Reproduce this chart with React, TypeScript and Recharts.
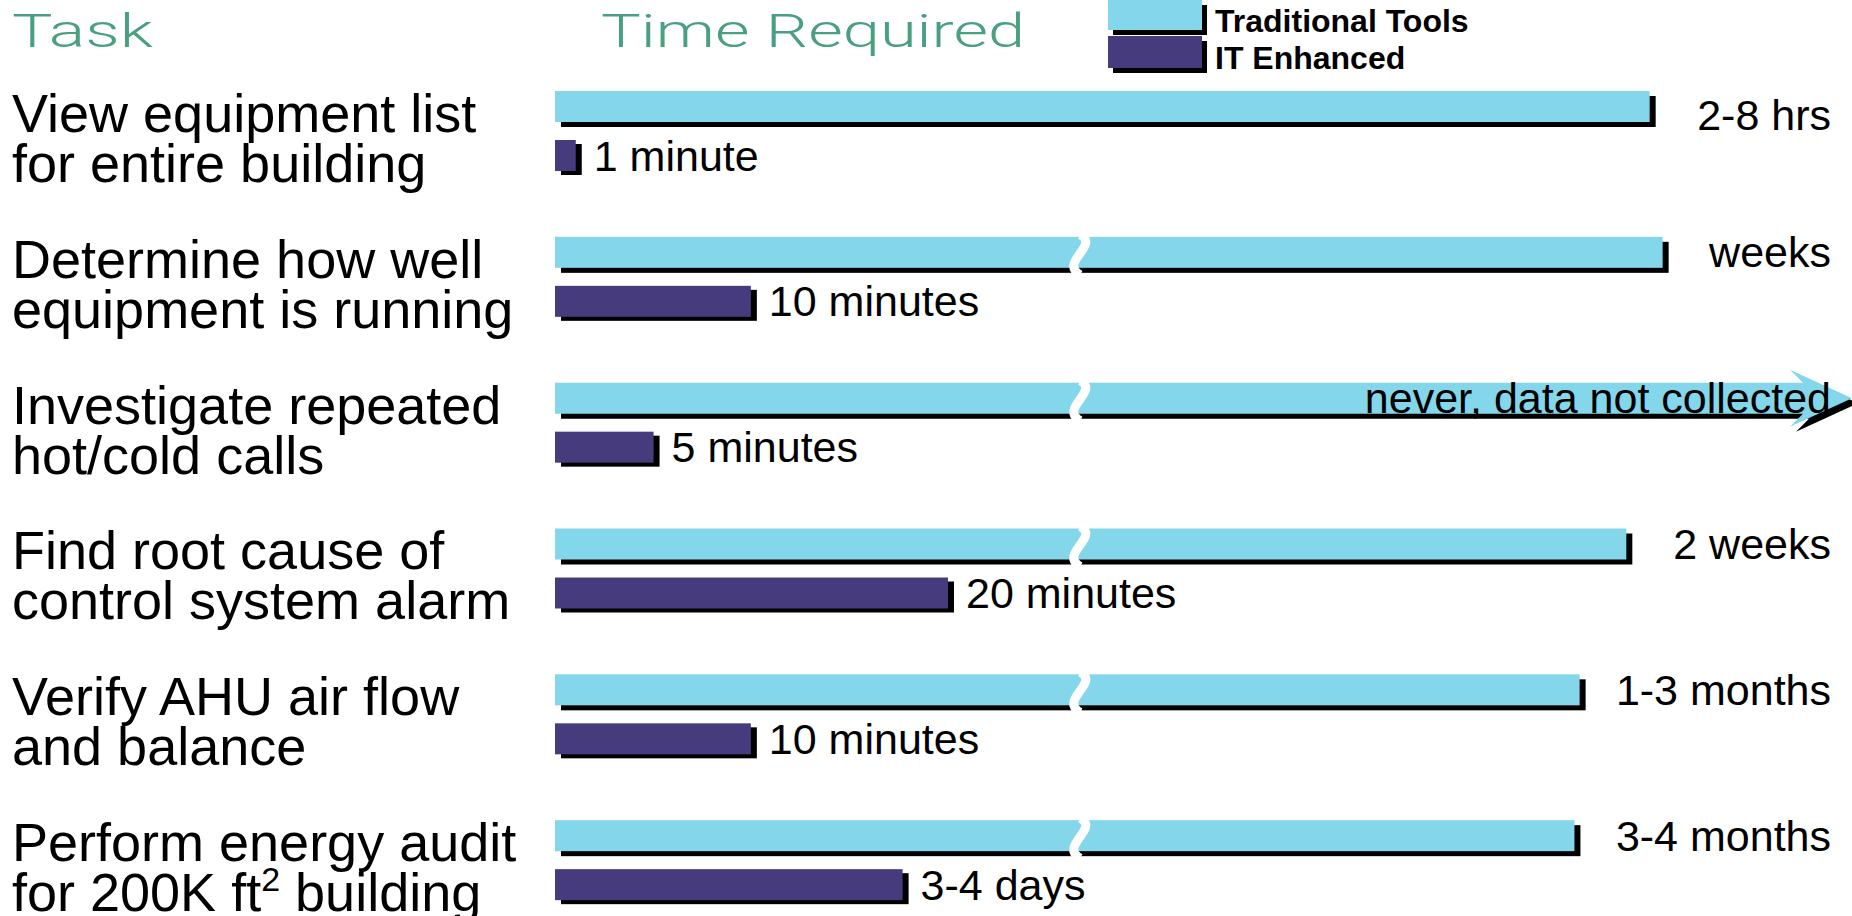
import { BarChart, Bar, XAxis, YAxis, Legend, LabelList } from "recharts";

const taskLines = [
  ["View equipment list", "for entire building"],
  ["Determine how well", "equipment is running"],
  ["Investigate repeated", "hot/cold calls"],
  ["Find root cause of", "control system alarm"],
  ["Verify AHU air flow", "and balance"],
  ["Perform energy audit", "for 200K ft² building"],
];

const seriesNames = ["Traditional Tools", "IT Enhanced"];

// bar lengths as drawn on the (broken) axis, not real durations
const traditional = [84.4, 85.4, 100, 82.6, 79.0, 78.6];
const itEnhanced = [1.6, 15.1, 7.6, 30.3, 15.1, 26.8];
const traditionalLabels = ["2-8 hrs", "weeks", "never, data not collected", "2 weeks", "1-3 months", "3-4 months"];
const itLabels = ["1 minute", "10 minutes", "5 minutes", "20 minutes", "10 minutes", "3-4 days"];
const axisBreak = [null, 40.5, 40.5, 40.5, 40.5, 40.5];
const openEnded = [false, false, true, false, false, false];

const CYAN = "#84d6ea";
const PURPLE = "#463b7d";
const GREEN = "#48a07f";
const FONT = "'Liberation Sans', Arial, Helvetica, sans-serif";
const LABEL_RIGHT = 1831;

const data = taskLines.map((lines, i) => ({
  task: lines.join(" "),
  traditional: traditional[i],
  it: itEnhanced[i],
  tradLabel: traditionalLabels[i],
  itLabel: itLabels[i],
  breakAt: axisBreak[i],
  open: openEnded[i],
}));

function TradBar(props: any) {
  const { x, y, width, height, fill, payload } = props;
  const top = y;
  const bot = y + height;
  const tip = x + width;
  let body;
  if (payload.open) {
    const mid = y + height / 2;
    const pts = (dx: number, dy: number) =>
      [
        [x, top],
        [tip - 49, top],
        [tip - 62, top - 13],
        [tip, mid],
        [tip - 62, bot + 13],
        [tip - 49, bot],
        [x, bot],
      ]
        .map(([a, b]) => `${a + dx},${b + dy}`)
        .join(" ");
    body = (
      <>
        <polygon points={pts(6, 5)} fill="#000" />
        <polygon points={pts(0, 0)} fill={fill} />
      </>
    );
  } else {
    body = (
      <>
        <rect x={x + 6} y={y + 5} width={width} height={height} fill="#000" />
        <rect x={x} y={y} width={width} height={height} fill={fill} />
      </>
    );
  }
  let squiggle = null;
  if (payload.breakAt != null) {
    const bx = x + (width * payload.breakAt) / payload.traditional;
    squiggle = (
      <path
        d={`M${bx},${top - 2} C${bx + 20},${top + 8} ${bx - 22},${top + 26} ${bx},${bot + 7}`}
        stroke="#fff"
        strokeWidth={9}
        fill="none"
      />
    );
  }
  return (
    <g>
      {body}
      {squiggle}
    </g>
  );
}

function ItBar(props: any) {
  const { x, y, width, height, fill } = props;
  return (
    <g>
      <rect x={x + 6} y={y + 4} width={width} height={height} fill="#000" />
      <rect x={x} y={y} width={width} height={height} fill={fill} />
    </g>
  );
}

function TradLabel(props: any) {
  const vb = props.viewBox ?? props;
  // first row's label sits a little lower in the original
  const dy = props.index === 0 ? 8 : 0;
  return (
    <text x={LABEL_RIGHT} y={vb.y + vb.height / 2 + dy} textAnchor="end" dominantBaseline="central" fontSize={43} fontFamily={FONT} fill="#000">
      {props.value}
    </text>
  );
}

function ItLabel(props: any) {
  const vb = props.viewBox ?? props;
  return (
    <text x={vb.x + vb.width + 18} y={vb.y + vb.height / 2} textAnchor="start" dominantBaseline="central" fontSize={43} fontFamily={FONT} fill="#000">
      {props.value}
    </text>
  );
}

function TaskTick(props: any) {
  const { y, payload } = props;
  const lines = taskLines[payload.index] ?? [payload.value];
  return (
    <g>
      {lines.map((line, i) => {
        const parts = line.split("²");
        return (
          <text key={i} x={12} y={y + 1 + i * 50} fontSize={54} fontFamily={FONT} fill="#000">
            {parts.length > 1 ? (
              <>
                {parts[0]}
                <tspan fontSize={34} dy={-20}>
                  2
                </tspan>
                <tspan dy={20}>{parts[1]}</tspan>
              </>
            ) : (
              line
            )}
          </text>
        );
      })}
    </g>
  );
}

function LegendBox(props: any) {
  const items = [...(props.payload || [])].sort(
    (a: any, b: any) => seriesNames.indexOf(a.value) - seriesNames.indexOf(b.value)
  );
  return (
    <div>
      {items.map((entry: any, i: number) => (
        <div key={entry.value} style={{ display: "flex", alignItems: "flex-start", height: 37 }}>
          <div
            style={{
              width: 94,
              height: i === 0 ? 30 : 32,
              marginTop: i === 0 ? 0 : -1,
              background: entry.color,
              boxShadow: "5px 5px 0 #000",
            }}
          />
          <span
            style={{
              marginLeft: 13,
              paddingTop: 3,
              fontFamily: FONT,
              fontWeight: "bold",
              fontSize: 32,
              lineHeight: "36px",
              color: "#000",
            }}
          >
            {entry.value}
          </span>
        </div>
      ))}
    </div>
  );
}

export default function App() {
  return (
    <div style={{ position: "absolute", left: 0, top: 0, width: 1852, height: 916, overflow: "hidden", background: "#fff" }}>
      <BarChart
        width={1852}
        height={940}
        data={data}
        layout="vertical"
        margin={{ top: 58, right: 0, bottom: 7, left: 0 }}
        barSize={31}
        barGap={18}
      >
        <XAxis type="number" domain={[0, 100]} hide />
        <YAxis type="category" dataKey="task" width={555} axisLine={false} tickLine={false} interval={0} tick={(p: any) => <TaskTick {...p} />} />
        <Legend
          layout="vertical"
          verticalAlign="middle"
          align="center"
          content={(p: any) => <LegendBox {...p} />}
          wrapperStyle={{ left: 1108, top: 0, width: 420, height: 80 }}
        />
        <Bar dataKey="traditional" name={seriesNames[0]} fill={CYAN} shape={(p: any) => <TradBar {...p} />} isAnimationActive={false}>
          <LabelList dataKey="tradLabel" content={(p: any) => <TradLabel {...p} />} />
        </Bar>
        <Bar dataKey="it" name={seriesNames[1]} fill={PURPLE} shape={(p: any) => <ItBar {...p} />} isAnimationActive={false}>
          <LabelList dataKey="itLabel" content={(p: any) => <ItLabel {...p} />} />
        </Bar>
      </BarChart>
      <svg width={1852} height={70} style={{ position: "absolute", left: 0, top: 0, pointerEvents: "none" }}>
        <text x={12} y={47} fontSize={47} fontFamily="Roboto, 'Liberation Sans', sans-serif" fontWeight={300} fill={GREEN} textLength={141} lengthAdjust="spacingAndGlyphs">
          Task
        </text>
        <text x={601} y={47} fontSize={47} fontFamily="Roboto, 'Liberation Sans', sans-serif" fontWeight={300} fill={GREEN} textLength={424} lengthAdjust="spacingAndGlyphs">
          Time Required
        </text>
      </svg>
    </div>
  );
}
